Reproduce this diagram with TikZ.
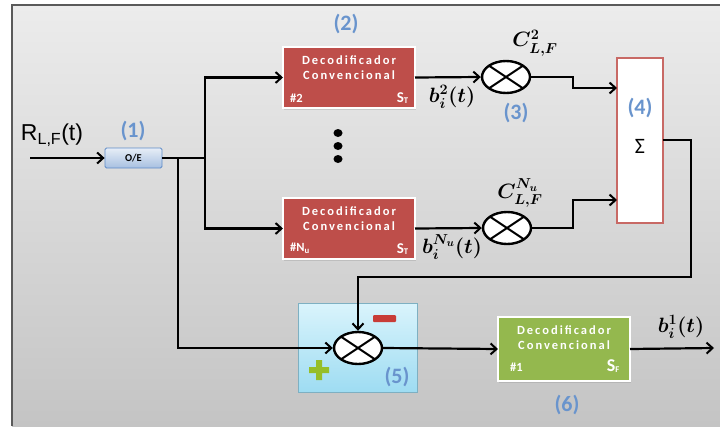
\documentclass[tikz,border=0pt]{standalone}
\usepackage{amsmath}
\usepackage{amssymb}
\usepackage{bm}
\usepackage{fontspec}
\setmainfont{Carlito}
\newfontfamily\arialfont{Liberation Sans}
\usetikzlibrary{arrows.meta,calc,positioning,shapes.geometric,shadows}
\definecolor{bgtop}{RGB}{236,236,236}
\definecolor{bgbot}{RGB}{196,196,196}
\definecolor{frame}{RGB}{90,90,90}
\definecolor{decred}{RGB}{190,78,74}
\definecolor{decgreen}{RGB}{148,184,78}
\definecolor{numblue}{RGB}{105,148,205}
\definecolor{oeblue}{RGB}{95,140,200}
\definecolor{subtop}{RGB}{218,244,252}
\definecolor{subbot}{RGB}{158,220,242}
\definecolor{minusred}{RGB}{200,60,55}
\definecolor{plusgreen}{RGB}{150,190,40}
\tikzset{
	wire/.style={line width=2.2pt},
	ar/.style={-{Straight Barb[length=6pt,width=11pt,line width=2pt]}},
	blk/.style={inner sep=0pt,outer sep=0pt,line width=1.8pt,
		drop shadow={opacity=.25,shadow xshift=1pt,shadow yshift=-1.5pt}},
	decbox/.style={blk,draw=white,fill=decred,minimum width=132pt,minimum height=61pt},
	decFbox/.style={blk,draw=white,fill=decgreen,minimum width=132pt,minimum height=64pt},
	dectext/.style={text=white,align=center,inner sep=0pt,
		font=\fontsize{12.5}{14.5}\selectfont\bfseries\addfontfeature{LetterSpace=16}},
	deccorner/.style={text=white,inner sep=0pt,font=\fontsize{12.5}{13}\selectfont\bfseries},
	oebox/.style={draw=oeblue,line width=.8pt,rounded corners=1.5pt,top color=white!85!oeblue,
		bottom color=white!45!oeblue,minimum width=57pt,minimum height=20pt,inner sep=0pt,
		font=\fontsize{10.5}{11}\selectfont\bfseries},
	sumbox/.style={draw=decred!85,fill=white,line width=2.2pt,minimum width=46pt,
		minimum height=165pt,inner sep=0pt},
	subbox/.style={draw=subbot!80!black,line width=.6pt,top color=subtop,bottom color=subbot,
		minimum width=119pt,minimum height=89pt,inner sep=0pt},
	mult/.style={ellipse,draw,fill=white,line width=2.4pt,minimum width=48pt,minimum height=32pt,
		inner sep=0pt,path picture={
			\draw[line width=2pt] (path picture bounding box.north west) -- (path picture bounding box.south east)
				(path picture bounding box.south west) -- (path picture bounding box.north east);}},
	num/.style={text=numblue,inner sep=0pt,font=\fontsize{22}{24}\selectfont\bfseries},
	sig/.style={inner sep=0pt,font=\fontsize{21}{23}\selectfont\boldmath}
}

\begin{document}
\begin{tikzpicture}[x=1pt,y=-1pt]
	\useasboundingbox (0,0) rectangle (720,426);
	\shade[top color=bgtop,bottom color=bgbot] (12,5) rectangle (720,426);
	\draw[frame,line width=1.6pt] (12,426) -- (12,5) -- (720,5);

	% blocks
	\node[oebox] (oe) at (133.5,158) {O/E};
	\node[decbox] (decA) at (349,77.5) {};
	\node[decbox] (decN) at (349,228.5) {};
	\node[mult] (multA) at (506,77) {};
	\node[mult] (multN) at (507,228) {};
	\node[sumbox] (sum) at (640,140.5) {};
	\node[subbox] (sub) at (357.5,347.5) {};
	\node[mult] (multS) at (358,348) {};
	\node[decFbox] (decF) at (564,349) {};

	\node[dectext,below=9pt of decA.north] (decAtxt) {Decodificador\\Convencional};
	\node[deccorner,above right=5pt and 7pt of decA.south west] (decAnum) {\#2};
	\node[deccorner,above left=4pt and 6pt of decA.south east] (decAs) {{\fontsize{15}{15}\selectfont S}\textsubscript{T}};
	\node[dectext,below=9pt of decN.north] (decNtxt) {Decodificador\\Convencional};
	\node[deccorner,above right=5pt and 7pt of decN.south west] (decNnum) {\#N\textsubscript{u}};
	\node[deccorner,above left=4pt and 6pt of decN.south east] (decNs) {{\fontsize{15}{15}\selectfont S}\textsubscript{T}};
	\node[dectext,below=9pt of decF.north] (decFtxt) {Decodificador\\Convencional};
	\node[deccorner,above right=9pt and 12pt of decF.south west] (decFnum) {\#1};
	\node[deccorner,above left=8pt and 10pt of decF.south east] (decFs) {{\fontsize{18}{18}\selectfont S}\textsubscript{F}};

	\node[inner sep=0pt,font=\fontsize{22}{24}\selectfont] (sigma) at (640,146) {Σ};
	\foreach \y in {133,146,159} \fill (338,\y) ellipse (4.5pt and 4pt);
	\fill[minusred,rounded corners=1pt] (373,315) rectangle (396,322);
	\fill[plusgreen] (316,360) rectangle (322,380) (309,367) rectangle (329,373);

	% labels
	\node[inner sep=0pt,font=\arialfont\fontsize{23}{25}\selectfont] (rlf) at (52,135) {R\textsubscript{L,F}(t)};
	\node[num] (n1) at (133,131) {(1)};
	\node[num] (n2) at (346,24) {(2)};
	\node[num] (n3) at (516,113) {(3)};
	\node[num] (n4) at (640,108) {(4)};
	\node[num] (n5) at (397,377) {(5)};
	\node[num] (n6) at (567,405) {(6)};
	\node[sig] (cA) at (535,43) {$C^{2}_{L,F}$};
	\node[sig] (cN) at (520,193) {$C^{N_u}_{L,F}$};
	\node[sig] (bA) at (452,97) {$b_i^{2}(t)$};
	\node[sig] (bN) at (452,247) {$b_i^{N_u}(t)$};
	\node[sig] (bF) at (681,327) {$b_i^{1}(t)$};

	% wires
	\coordinate (in) at (30,158);
	\coordinate (jA) at (178,158);
	\coordinate (jB) at (205,158);
	\coordinate (sAin) at (617,88);
	\coordinate (sNin) at (617,200);
	\coordinate (sout) at (663,140);
	\coordinate (out) at (714,348);
	\draw[wire,ar] (in) -- (oe.west);
	\draw[wire] (oe.east) -- (jB);
	\draw[wire,ar] (jB) |- (decA.west);
	\draw[wire,ar] (jB) |- (decN.west);
	\draw[wire,ar] (jA) |- (multS.west);
	\draw[wire,ar] (decA.east) -- (multA.west);
	\draw[wire,ar] (decN.east) -- (multN.west);
	\draw[wire,ar] (multA.east) -- (573,77) |- (sAin);
	\draw[wire,ar] (multN.east) -- (573,228) |- (sNin);
	\draw[wire,ar] (sout) -- (691,140) -- (691,277) -| (multS.north);
	\draw[wire,ar] (multS.east) -- (decF.west);
	\draw[wire,ar] (decF.east) -- (out);
\end{tikzpicture}
\end{document}
